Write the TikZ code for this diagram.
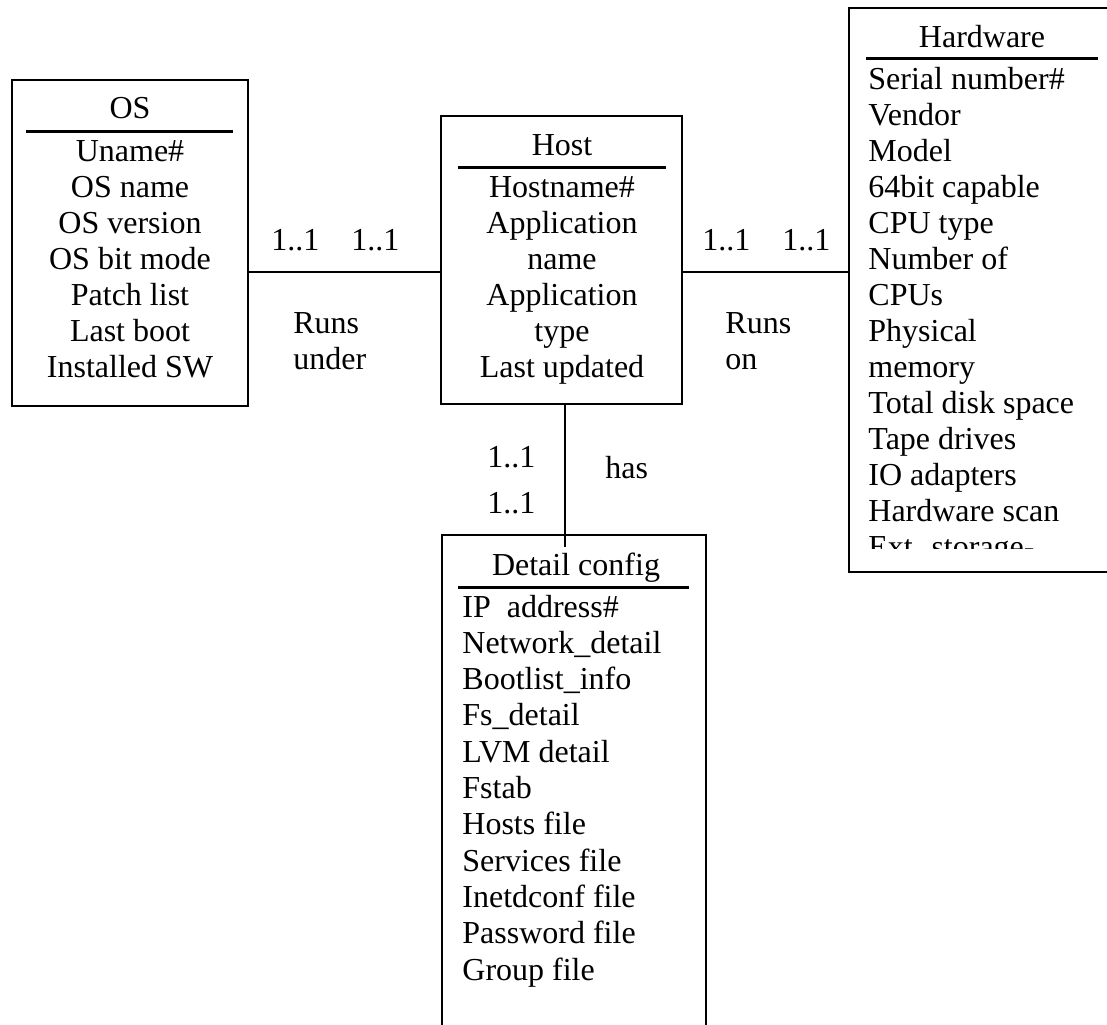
\documentclass[tikz,border=0pt]{standalone}
\usepackage{fontspec}
\setmainfont{Liberation Serif}
\begin{document}
\begin{tikzpicture}[x=0.5pt,y=-0.5pt,
	every node/.style={font=\fontsize{16}{18}\selectfont},
	box/.style={draw,line width=1pt,inner sep=0pt},
	rule/.style={line width=1.5pt},
	link/.style={line width=1pt},
	row/.style={anchor=base,inner sep=0pt},
	rowl/.style={anchor=base west,inner sep=0pt}]
	\useasboundingbox (0,0) rectangle (1107,1024);
	% entity boxes
	\node[box,minimum width=118pt,minimum height=163pt] (os) at (130,243) {};
	\node[box,minimum width=120.5pt,minimum height=144pt] (host) at (561.5,260) {};
	\node[box,minimum width=133pt,minimum height=282pt] (hw) at (982,290) {};
	\node[box,minimum width=132pt,minimum height=252.5pt] (cfg) at (574,787.5) {};
	% titles
	\node[row] (os-t) at (130,118) {OS};
	\node[row] (host-t) at (562,155) {Host};
	\node[row] (hw-t) at (982,47) {Hardware};
	\node[row] (cfg-t) at (576,575) {Detail config};
	\draw[rule] (26,131)--(233,131);
	\draw[rule] (458,167)--(666,167);
	\draw[rule] (866,58)--(1098,58);
	\draw[rule] (458,587)--(689,587);
	% attributes
	\foreach \t [count=\i from 0] in {Uname\#,OS name,OS version,OS bit mode,Patch list,Last boot,Installed SW}
		\node[row] (os-\i) at (130,161+36*\i) {\t};
	\foreach \t [count=\i from 0] in {Hostname\#,Application,name,Application,type,Last updated}
		\node[row] (host-\i) at (562,197+36*\i) {\t};
	\foreach \t [count=\i from 0] in {Serial number\#,Vendor,Model,64bit capable,CPU type,Number of,CPUs,Physical,memory,Total disk space,Tape drives,IO adapters,Hardware scan}
		\node[rowl] (hw-\i) at (868,89+36*\i) {\t};
	\begin{scope}
		\clip (850,500) rectangle (1107,548);
		\node[rowl] (hw-13) at (868,557) {Ext. storage-};
	\end{scope}
	\foreach \t [count=\i from 0] in {IP\enskip address\#,Network\_detail,Bootlist\_info,Fs\_detail,LVM detail,Fstab,Hosts file,Services file,Inetdconf file,Password file,Group file}
		\node[rowl] (cfg-\i) at (462,617+36.3*\i) {\t};
	% relationships
	\coordinate (ly) at (0,272);
	\coordinate (vx) at (565,0);
	\draw[link] (os.east |- ly)--(host.west |- ly);
	\draw[link] (host.east |- ly)--(hw.west |- ly);
	\draw[link] (host.south -| vx)--([yshift=-6.5pt]cfg.north -| vx);
	\node[rowl] (c1) at (271,250) {1..1};
	\node[rowl] (c2) at (351,250) {1..1};
	\node[rowl,align=left] (under) at (293,369) {Runs\\under};
	\node[rowl] (c3) at (702,250) {1..1};
	\node[rowl] (c4) at (782,250) {1..1};
	\node[rowl,align=left] (on) at (725,369) {Runs\\on};
	\node[rowl] (c5) at (487,467) {1..1};
	\node[rowl] (c6) at (487,513) {1..1};
	\node[rowl] (has) at (605,478) {has};
\end{tikzpicture}
\end{document}
